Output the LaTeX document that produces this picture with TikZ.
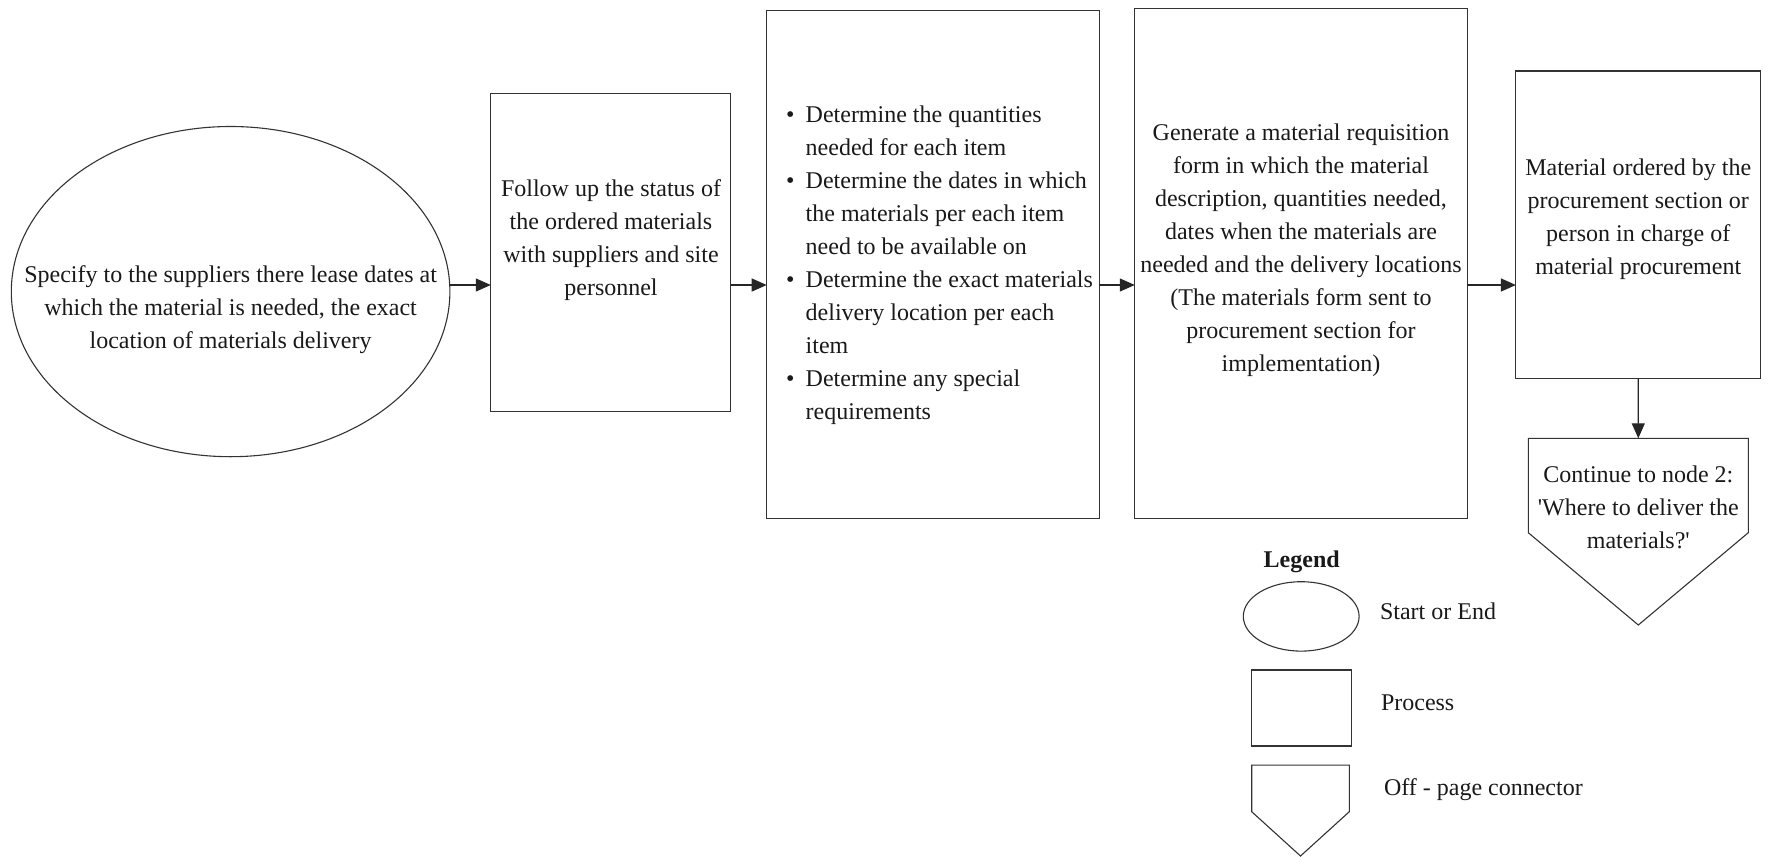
\documentclass[tikz,border=0pt]{standalone}
\usepackage{fontspec}
\setmainfont{Liberation Serif}
\usetikzlibrary{arrows.meta,calc,shapes.geometric}

\begin{document}
\begin{tikzpicture}[x=0.5pt,y=-0.5pt,
  every node/.style={inner sep=0pt, outer sep=0pt},
  outline/.style={draw=black!80, line width=0.55pt},
  procbox/.style={outline, rectangle},
  terminal/.style={outline, ellipse},
  txt/.style={font=\fontsize{12pt}{16.5pt}\selectfont, align=center, text=black!90},
  flow/.style={draw=black!85, line width=0.6pt, -{Triangle[length=7.5pt,width=6.5pt]}}
]
\useasboundingbox (0,0) rectangle (1768,857);

% bullet helpers for the checklist box
\newcommand{\bul}{\makebox[9.85pt][l]{\textbullet}}
\newcommand{\ind}{\hspace*{9.85pt}}

% ---- main flow ----
\node[terminal, minimum width=219.3pt, minimum height=165.1pt] (start) at (230.6,291.6) {};
\node[txt] (startText) at (230.6,310)
  {Specify to the suppliers there lease dates at\\
   which the material is needed, the exact\\
   location of materials delivery};

\node[procbox, minimum width=120pt, minimum height=159.2pt] (follow) at (610.8,252.5) {};
\node[txt] (followText) at (611,240.3)
  {Follow up the status of\\
   the ordered materials\\
   with suppliers and site\\
   personnel};

\node[procbox, minimum width=166.2pt, minimum height=253.8pt] (determine) at (932.9,264.5) {};
\node[txt, align=left, anchor=west] (determineText) at (786,265)
  {\bul Determine the quantities\\
   \ind needed for each item\\
   \bul Determine the dates in which\\
   \ind the materials per each item\\
   \ind need to be available on\\
   \bul Determine the exact materials\\
   \ind delivery location per each\\
   \ind item\\
   \bul Determine any special\\
   \ind requirements};

\node[procbox, minimum width=166.2pt, minimum height=255pt] (requisition) at (1301,263.3) {};
\node[txt] (requisitionText) at (1301,250)
  {Generate a material requisition\\
   form in which the material\\
   description, quantities needed,\\
   dates when the materials are\\
   needed and the delivery locations\\
   (The materials form sent to\\
   procurement section for\\
   implementation)};

\node[procbox, minimum width=122.3pt, minimum height=153.7pt] (ordered) at (1638.2,224.7) {};
\node[txt] (orderedText) at (1638.2,219.7)
  {Material ordered by the\\
   procurement section or\\
   person in charge of\\
   material procurement};

% off-page connector: rectangle body with a pointed bottom
\node[minimum width=110pt, minimum height=47.2pt] (offpage) at (1638.3,485.5) {};
\draw[outline] (offpage.north west) -- (offpage.north east) -- (offpage.south east)
  -- ($(offpage.south)+(0,92.3)$) -- (offpage.south west) -- cycle;
\node[txt] (offpageText) at (1638.3,507)
  {Continue to node 2:\\
   \textquotesingle Where to deliver the\\
   materials?\textquotesingle};

% ---- connectors ----
\coordinate (lane) at (0,285);
\draw[flow] (start.east |- lane) -- (follow.west |- lane);
\draw[flow] (follow.east |- lane) -- (determine.west |- lane);
\draw[flow] (determine.east |- lane) -- (requisition.west |- lane);
\draw[flow] (requisition.east |- lane) -- (ordered.west |- lane);
\draw[flow] (ordered.south) -- (offpage.north);

% ---- legend ----
\node[font=\bfseries\fontsize{12pt}{14pt}\selectfont, text=black!90] (legendTitle) at (1301.7,562) {Legend};

\node[terminal, minimum width=57.9pt, minimum height=34.7pt] (keyTerminal) at (1301.2,616.4) {};
\node[txt, anchor=west] (keyTerminalText) at (1380,611.5) {Start or End};

\node[procbox, minimum width=49.7pt, minimum height=38pt] (keyProcess) at (1301.4,708) {};
\node[txt, anchor=west] (keyProcessText) at (1381,703) {Process};

\node[minimum width=48.8pt, minimum height=23.3pt] (keyOff) at (1300.5,788.4) {};
\draw[outline] (keyOff.north west) -- (keyOff.north east) -- (keyOff.south east)
  -- ($(keyOff.south)+(0,44.3)$) -- (keyOff.south west) -- cycle;
\node[txt, anchor=west] (keyOffText) at (1384,789.5) {Off - page connector};
\end{tikzpicture}
\end{document}
